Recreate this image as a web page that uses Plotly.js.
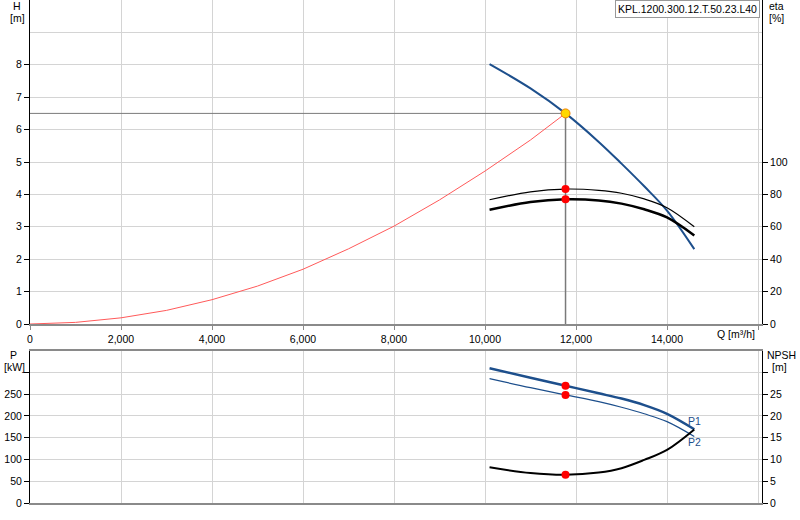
<!DOCTYPE html>
<html>
<head>
<meta charset="utf-8">
<script src="https://cdn.plot.ly/plotly-3.0.1.min.js"></script>
<style>
  html, body { margin: 0; padding: 0; background: #fff; }
  #plot { width: 800px; height: 520px; }
</style>
</head>
<body>
<div id="plot"></div>
<script>
// Pump curve sheet: H / eta on top, P / NPSH below, shared Q axis.

// operating point
const opQ = 11770;
const opH = 6.5;

// pump head curve H(Q)
const qHead = [10100, 11000, 11770, 12500, 13000, 13500, 14000, 14600];
const headH = [8.02, 7.27, 6.5, 5.62, 4.95, 4.25, 3.5, 2.31];

// system curve (red)
const qSys = [0, 1000, 2000, 3000, 4000, 5000, 6000, 7000, 8000, 9000, 10000, 11000, 11770];
const hSys = [0, 0.05, 0.19, 0.42, 0.75, 1.17, 1.69, 2.32, 3.02, 3.83, 4.72, 5.68, 6.5];

// shared Q grid for eta / P / NPSH
const qCurve = [10100, 11000, 11770, 12500, 13000, 13500, 14000, 14600];
const etaThin = [76.7, 81.6, 83.3, 82.5, 80.7, 77.2, 71.8, 60.0];
const etaThick = [70.5, 75.3, 77.0, 76.3, 74.3, 70.8, 65.8, 54.7];
const powerP1 = [309.6, 288, 269.5, 252, 240, 225, 205, 169.5];
const powerP2 = [285.8, 265, 248.4, 233, 220, 205, 187, 152.8];
const npsh = [8.2, 6.9, 6.5, 7.0, 8.0, 9.9, 12.2, 16.9];

// values at the operating point (red dots)
const etaOp = [83.3, 77.0];
const powerOp = [269.5, 248.4];
const npshOp = 6.5;

const qTicks = [0, 2000, 4000, 6000, 8000, 10000, 12000, 14000, 16000];
const qTickText = ["0", "2,000", "4,000", "6,000", "8,000", "10,000", "12,000", "14,000", ""];
const hTicks = [0, 1, 2, 3, 4, 5, 6, 7, 8];
const etaTicks = [0, 20, 40, 60, 80, 100];
const pTicks = [0, 50, 100, 150, 200, 250, 300];
const pTickText = ["0", "50", "100", "150", "200", "250", ""];
const npshTicks = [0, 5, 10, 15, 20, 25, 30];
const npshTickText = ["0", "5", "10", "15", "20", "25", ""];

const FONT = "Liberation Sans, Arial, sans-serif";
const BLUE = "#1d4f8c";
const GRID = "#d4d4d4";
const AXIS_GREY = "#8a8a8a";

// pixel -> paper helpers (plot area is x 30..762, y 0..503)
const px = (v) => (v - 30) / 732;
const py = (v) => (503 - v) / 503;

const traces = [
  { x: qSys, y: hSys, mode: "lines", line: { color: "#ff5a5a", width: 1 },
    xaxis: "x", yaxis: "y" },
  { x: [0, opQ], y: [opH, opH], mode: "lines", line: { color: "#7a7a7a", width: 1 },
    xaxis: "x", yaxis: "y" },
  { x: [opQ, opQ], y: [opH, 0], mode: "lines", line: { color: "#7a7a7a", width: 1.5 },
    xaxis: "x", yaxis: "y" },
  { x: qHead, y: headH, mode: "lines", line: { color: BLUE, width: 2, shape: "spline" },
    xaxis: "x", yaxis: "y" },
  { x: qCurve, y: etaThin, mode: "lines", line: { color: "#000", width: 1.2, shape: "spline" },
    xaxis: "x", yaxis: "y2" },
  { x: qCurve, y: etaThick, mode: "lines", line: { color: "#000", width: 2.5, shape: "spline" },
    xaxis: "x", yaxis: "y2" },
  { x: [opQ, opQ], y: etaOp, mode: "markers", marker: { color: "#ff0000", size: 8 },
    xaxis: "x", yaxis: "y2" },
  { x: [opQ], y: [opH], mode: "markers",
    marker: { color: "#ffd800", size: 9, line: { color: "#f08000", width: 1 } },
    xaxis: "x", yaxis: "y" },

  { x: qCurve, y: powerP1, mode: "lines", line: { color: BLUE, width: 2.5, shape: "spline" },
    xaxis: "x2", yaxis: "y3" },
  { x: qCurve, y: powerP2, mode: "lines", line: { color: BLUE, width: 1.2, shape: "spline" },
    xaxis: "x2", yaxis: "y3" },
  { x: qCurve, y: npsh, mode: "lines", line: { color: "#000", width: 2, shape: "spline" },
    xaxis: "x2", yaxis: "y4" },
  { x: [opQ, opQ], y: powerOp, mode: "markers", marker: { color: "#ff0000", size: 8 },
    xaxis: "x2", yaxis: "y3" },
  { x: [opQ], y: [npshOp], mode: "markers", marker: { color: "#ff0000", size: 8 },
    xaxis: "x2", yaxis: "y4" },
];

const tickFont = { family: FONT, size: 10.5, color: "#000" };
const xRange = [0, 16088];

const txt = (text, x, y, anchor, color) => ({
  text, x, y, xref: "paper", yref: "paper", showarrow: false,
  xanchor: anchor || "center", yanchor: "middle",
  font: { family: FONT, size: 10.5, color: color || "#000" },
});

const layout = {
  width: 800, height: 520,
  margin: { l: 30, r: 38, t: 0, b: 17 },
  paper_bgcolor: "#fff", plot_bgcolor: "#fff",
  showlegend: false,
  xaxis: {
    domain: [0, 1], anchor: "y", range: xRange,
    tickmode: "array", tickvals: qTicks, ticktext: qTickText,
    ticks: "outside", ticklen: 4, tickcolor: AXIS_GREY, tickfont: tickFont,
    showline: true, linecolor: AXIS_GREY, linewidth: 2, mirror: true,
    showgrid: true, gridcolor: GRID, zeroline: false,
  },
  yaxis: {
    domain: [py(324), 1], anchor: "x", range: [0, 10],
    tickmode: "array", tickvals: hTicks,
    ticks: "outside", ticklen: 5, tickcolor: "#000", tickfont: tickFont,
    showline: true, linecolor: "#000", linewidth: 1,
    showgrid: true, gridcolor: GRID, zeroline: false,
    minor: { tickvals: [9], showgrid: true, gridcolor: GRID, ticks: "" },
  },
  yaxis2: {
    overlaying: "y", side: "right", anchor: "x", range: [0, 200],
    tickmode: "array", tickvals: etaTicks,
    ticks: "outside", ticklen: 5, tickcolor: "#000", tickfont: tickFont,
    showline: true, linecolor: "#000", linewidth: 1,
    showgrid: false, zeroline: false,
  },
  xaxis2: {
    domain: [0, 1], anchor: "y3", range: xRange,
    tickmode: "array", tickvals: qTicks, showticklabels: false, ticks: "",
    showline: true, linecolor: AXIS_GREY, linewidth: 2, mirror: true,
    showgrid: true, gridcolor: GRID, zeroline: false,
  },
  yaxis3: {
    domain: [0, py(350.7)], anchor: "x2", range: [0, 350],
    tickmode: "array", tickvals: pTicks, ticktext: pTickText,
    ticks: "outside", ticklen: 5, tickcolor: "#000", tickfont: tickFont,
    showline: true, linecolor: "#000", linewidth: 1,
    showgrid: true, gridcolor: GRID, zeroline: false,
  },
  yaxis4: {
    overlaying: "y3", side: "right", anchor: "x2", range: [0, 35],
    tickmode: "array", tickvals: npshTicks, ticktext: npshTickText,
    ticks: "outside", ticklen: 5, tickcolor: "#000", tickfont: tickFont,
    showline: true, linecolor: "#000", linewidth: 1,
    showgrid: false, zeroline: false,
  },
  annotations: [
    txt("H", px(17), py(6)),
    txt("[m]", px(17), py(18)),
    txt("eta", px(767), py(6), "left"),
    txt("[%]", px(767), py(18), "left"),
    txt("Q [m³/h]", px(757), py(334), "right"),
    txt("P", px(13), py(355)),
    txt("[kW]", px(14), py(367)),
    txt("NPSH", px(781), py(355)),
    txt("[m]", px(780), py(367)),
    { text: "P1", x: 14600, y: 189, xref: "x2", yref: "y3", showarrow: false,
      xanchor: "center", yanchor: "middle", font: { family: FONT, size: 10.5, color: BLUE } },
    { text: "P2", x: 14600, y: 141, xref: "x2", yref: "y3", showarrow: false,
      xanchor: "center", yanchor: "middle", font: { family: FONT, size: 10.5, color: BLUE } },
    { text: "KPL.1200.300.12.T.50.23.L40", x: px(760), y: 1, xref: "paper", yref: "paper",
      xanchor: "right", yanchor: "top", showarrow: false,
      bgcolor: "#fff", bordercolor: "#999", borderwidth: 1, borderpad: 2,
      font: { family: FONT, size: 10.5, color: "#000" } },
  ],
};

Plotly.newPlot("plot", traces, layout, { displayModeBar: false, staticPlot: true });
</script>
</body>
</html>
